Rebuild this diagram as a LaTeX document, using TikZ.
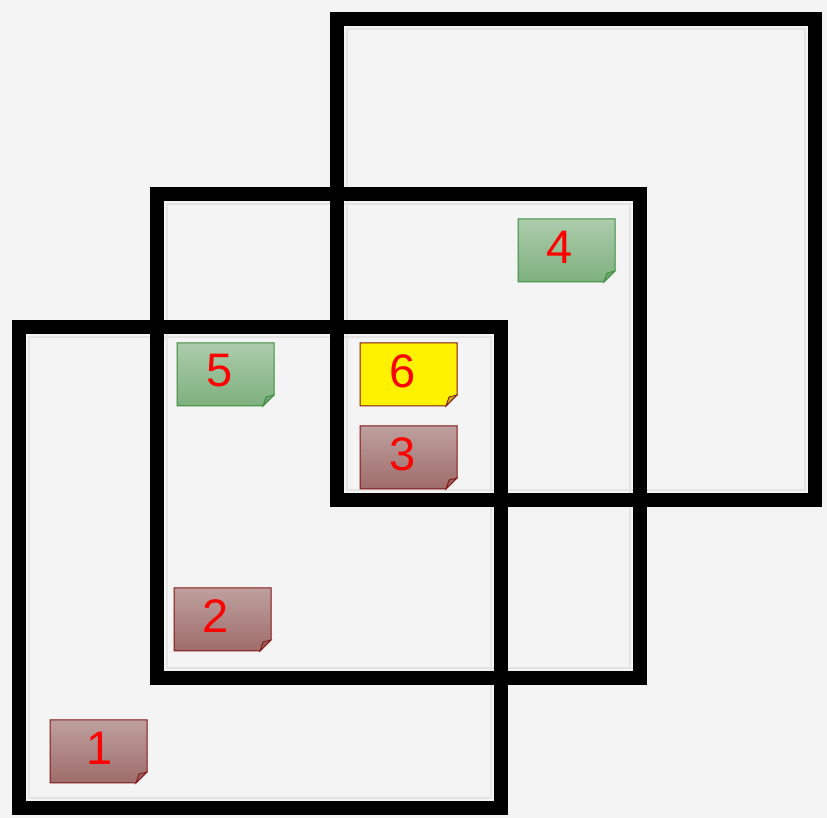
\documentclass[tikz,border=0pt]{standalone}
\usepackage{fontspec}
\setmainfont{Liberation Sans}
\definecolor{bgc}{RGB}{244,244,244}
\definecolor{faint}{RGB}{228,228,228}
\definecolor{browntop}{RGB}{190,160,158}
\definecolor{brownbot}{RGB}{158,108,106}
\definecolor{brownedge}{RGB}{130,20,20}
\definecolor{browntip}{RGB}{150,95,92}
\definecolor{greentop}{RGB}{172,204,172}
\definecolor{greenbot}{RGB}{126,176,126}
\definecolor{greenedge}{RGB}{60,140,60}
\definecolor{greentip}{RGB}{110,165,110}
\definecolor{yellowtip}{RGB}{200,170,30}
\tikzset{
  frame/.style={line width=7.3pt, draw=black},
  faintframe/.style={line width=0.6pt, draw=faint},
  notelabel/.style={inner sep=0pt, text=red, font=\fontsize{23.5}{23.5}\selectfont},
  brownnote/.style={top color=browntop, bottom color=brownbot, draw=brownedge, line width=0.5pt},
  browntipst/.style={fill=browntip, draw=brownedge, line width=0.4pt},
  greennote/.style={top color=greentop, bottom color=greenbot, draw=greenedge, line width=0.5pt},
  greentipst/.style={fill=greentip, draw=greenedge, line width=0.4pt},
  yellownote/.style={fill=yellow, draw=brownedge, line width=0.5pt},
  yellowtipst/.style={fill=yellowtip, draw=brownedge, line width=0.4pt},
}
% #1 name, #2 x, #3 y (top-left), #4 text, #5 note style, #6 tip style, #7 label x offset
\newcommand{\stickynote}[7]{%
  \path[#5] (#2,#3) -- (#2+97,#3) -- (#2+97,#3+52) -- (#2+86,#3+63) -- (#2,#3+63) -- cycle;
  \path[#6] (#2+97,#3+52) -- (#2+86,#3+63) -- (#2+89,#3+54) -- cycle;
  \node[notelabel] (#1) at (#2+#7,#3+28) {#4};
}
\begin{document}
\begin{tikzpicture}[x=0.5pt,y=-0.5pt]
\useasboundingbox (0,0) rectangle (827,818);
\fill[bgc] (0,0) rectangle (827,818);
% faint inner outlines
\draw[faintframe] (347,29) rectangle (805,490);
\draw[faintframe] (167,204) rectangle (630,668);
\draw[faintframe] (29,337) rectangle (491,798);
% black frames
\draw[frame] (337,19) rectangle (815,500);
\draw[frame] (157,194) rectangle (640,678);
\draw[frame] (19,327) rectangle (501,808);
% sticky notes
\stickynote{n1}{50}{720}{1}{brownnote}{browntipst}{49.5}
\stickynote{n2}{174}{588}{2}{brownnote}{browntipst}{42}
\stickynote{n3}{360}{426}{3}{brownnote}{browntipst}{42.5}
\stickynote{n6}{360}{343}{6}{yellownote}{yellowtipst}{42.5}
\stickynote{n5}{177}{343}{5}{greennote}{greentipst}{43}
\stickynote{n4}{518}{219}{4}{greennote}{greentipst}{42}
\end{tikzpicture}
\end{document}
